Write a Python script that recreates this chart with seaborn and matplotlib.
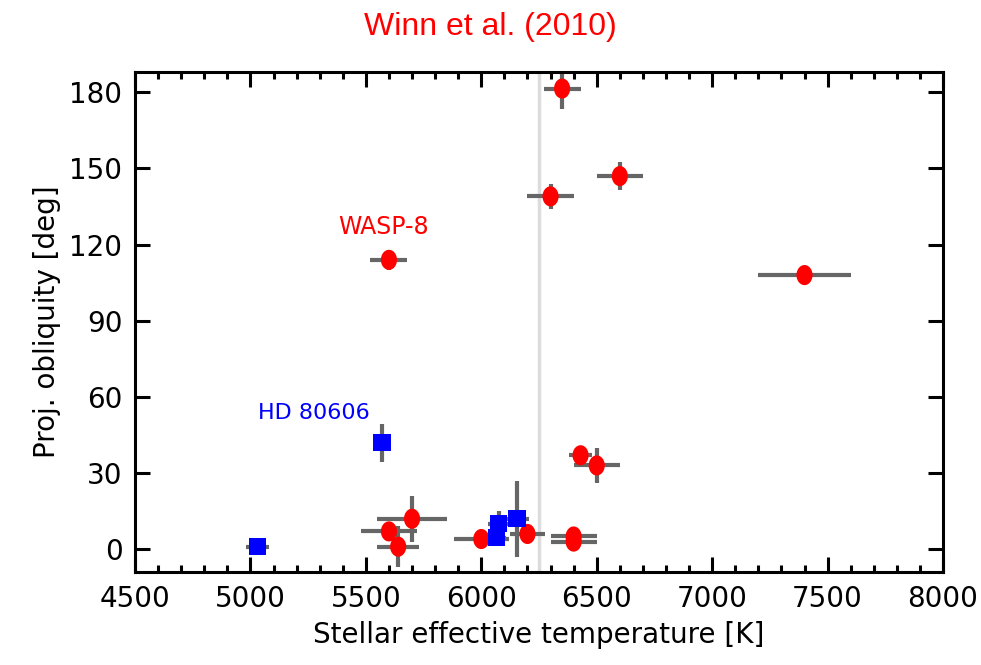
import numpy as np
import pandas as pd
import matplotlib
matplotlib.use('Agg')
import matplotlib.pyplot as plt
import seaborn as sns
from matplotlib.path import Path
from matplotlib.ticker import MultipleLocator, FixedLocator

# ---- data ----
red_teff = [6350, 6300, 6600, 5600, 7400, 6430, 6500, 6400, 6400, 6200, 6000, 5600, 5640, 5700]
red_lam = [181.5, 139, 147, 114, 108, 37, 33, 5, 3, 6, 4, 7, 1, 12]
red_teff_err = [80, 100, 100, 80, 200, 50, 100, 100, 100, 75, 120, 120, 90, 150]
red_lam_err = [8, 5, 5.5, 4, 1.5, 3, 7, 2, 2, 3.5, 2, 3, 8, 9]

blue_teff = [5030, 5570, 6065, 6075, 6155]
blue_lam = [1, 42, 4.5, 10, 12]
blue_teff_err = [50, 40, 40, 45, 50]
blue_lam_err = [1, 7.5, 2, 5, 15]

yticks = [0, 30, 60, 90, 120, 150, 180]
xticks = [4500, 5000, 5500, 6000, 6500, 7000, 7500, 8000]

df = pd.concat([
    pd.DataFrame({'teff': red_teff, 'lam': red_lam, 'group': 'red'}),
    pd.DataFrame({'teff': blue_teff, 'lam': blue_lam, 'group': 'blue'}),
], ignore_index=True)

sns.set_style('ticks')
plt.rcParams['font.family'] = ['DejaVu Sans']
plt.rcParams['text.color'] = 'black'
plt.rcParams['axes.labelcolor'] = 'black'
plt.rcParams['xtick.color'] = 'black'
plt.rcParams['ytick.color'] = 'black'

fig = plt.figure(figsize=(9.81, 6.65), dpi=100)
ax = fig.add_axes([0.1376, 0.1398, 0.8237, 0.7519])

ax.axvline(6250, color='#dcdcdc', lw=2.5, zorder=0)

ax.errorbar(red_teff, red_lam, xerr=red_teff_err, yerr=red_lam_err, fmt='none',
            ecolor='#666666', elinewidth=3, capsize=0, zorder=1)
ax.errorbar(blue_teff, blue_lam, xerr=blue_teff_err, yerr=blue_lam_err, fmt='none',
            ecolor='#666666', elinewidth=3, capsize=0, zorder=1)

th = np.linspace(0, 2 * np.pi, 64)
ellipse = Path(np.column_stack([0.8 * np.cos(th), np.sin(th)]), closed=True)

sns.scatterplot(data=df, x='teff', y='lam', hue='group', style='group', size='group',
                palette={'red': '#ff0000', 'blue': '#0000ff'},
                markers={'red': ellipse, 'blue': 's'},
                sizes={'red': 210, 'blue': 155},
                edgecolor='none', linewidth=0, legend=False, ax=ax, zorder=3)

ax.text(5575, 127, 'WASP-8', color='#ff0000', fontsize=17, ha='center', va='center')
ax.text(5275, 53.7, 'HD 80606', color='#0000ff', fontsize=16, ha='center', va='center')

ax.set_xlim(4500, 8000)
ax.set_ylim(-9, 188)
ax.xaxis.set_major_locator(FixedLocator(xticks))
ax.xaxis.set_minor_locator(MultipleLocator(100))
ax.yaxis.set_major_locator(FixedLocator(yticks))
ax.tick_params(which='both', direction='in', top=True, right=True, width=2.2, color='black')
ax.tick_params(which='major', length=11, labelsize=20, pad=9, labelcolor='black')
ax.tick_params(which='minor', length=5)
for s in ax.spines.values():
    s.set_linewidth(2.2)
    s.set_color('black')

ax.set_xlabel('Stellar effective temperature [K]', fontsize=20, labelpad=6, color='black')
ax.set_ylabel('Proj. obliquity [deg]', fontsize=20, labelpad=6, color='black')

fig.text(0.4995, 0.960, 'Winn et al. (2010)', color='#ff0000', fontsize=23,
         family='Liberation Sans', ha='center', va='center')

fig.savefig('out.png', dpi=100)
